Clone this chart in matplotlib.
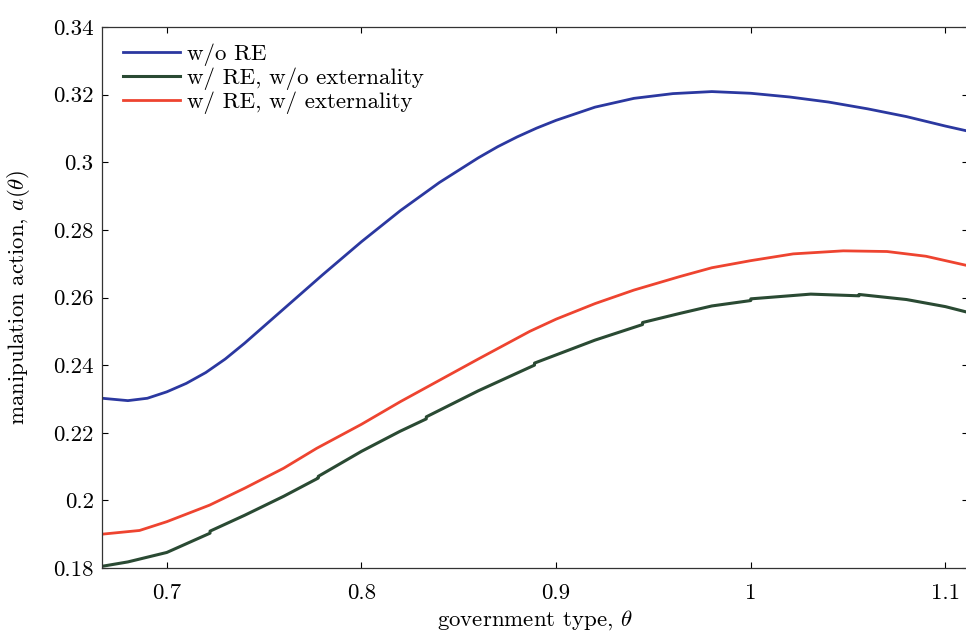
import matplotlib
matplotlib.use("Agg")
import matplotlib.pyplot as plt

# values
theta_blue = [0.6667, 0.68, 0.69, 0.70, 0.71, 0.72, 0.73, 0.74, 0.76, 0.78, 0.80, 0.82, 0.84,
              0.86, 0.87, 0.88, 0.89, 0.90, 0.92, 0.94, 0.96, 0.98, 1.00, 1.02, 1.04, 1.06,
              1.08, 1.10, 1.1116]
a_no_re = [0.2302, 0.2295, 0.2302, 0.2321, 0.2346, 0.2378, 0.2418, 0.2465, 0.2566, 0.2667,
           0.2765, 0.2857, 0.2940, 0.3013, 0.3046, 0.3075, 0.3101, 0.3124, 0.3163, 0.3189,
           0.3203, 0.3209, 0.3204, 0.3193, 0.3178, 0.3158, 0.3135, 0.3107, 0.3092]

theta_red = [0.6667, 0.686, 0.70, 0.722, 0.74, 0.76, 0.777, 0.80, 0.82, 0.84, 0.86, 0.8865,
             0.90, 0.92, 0.94, 0.9636, 0.98, 1.00, 1.0218, 1.0475, 1.07, 1.09, 1.1116]
a_re_ext = [0.1900, 0.1911, 0.1937, 0.1986, 0.2036, 0.2095, 0.2154, 0.2225, 0.2292, 0.2355,
            0.2418, 0.2500, 0.2536, 0.2582, 0.2622, 0.2662, 0.2688, 0.2709, 0.2729, 0.2738,
            0.2736, 0.2722, 0.2694]

# the green curve has small steps at the grid breaks, so some x values repeat
theta_green = [0.6667, 0.68, 0.70, 0.7222, 0.7222, 0.74, 0.76, 0.7778, 0.7778, 0.80, 0.8197,
               0.8333, 0.8333, 0.86, 0.8889, 0.8889, 0.92, 0.9444, 0.9444, 0.9636, 0.98,
               1.00, 1.00, 1.0308, 1.0556, 1.0556, 1.08, 1.10, 1.1116]
a_re_noext = [0.1805, 0.1818, 0.1846, 0.1903, 0.1909, 0.1956, 0.2012, 0.2066, 0.2071, 0.2145,
              0.2204, 0.2241, 0.2247, 0.2324, 0.2400, 0.2406, 0.2474, 0.2520, 0.2526, 0.2553,
              0.2575, 0.2591, 0.2596, 0.2610, 0.2605, 0.2609, 0.2594, 0.2573, 0.2556]

x_ticks = [0.7, 0.8, 0.9, 1.0, 1.1]
x_labels = ['0.7', '0.8', '0.9', '1', '1.1']
y_ticks = [0.18, 0.20, 0.22, 0.24, 0.26, 0.28, 0.30, 0.32, 0.34]
y_labels = ['0.18', '0.2', '0.22', '0.24', '0.26', '0.28', '0.3', '0.32', '0.34']

plt.rcParams['font.family'] = ['cmr10', 'DejaVu Serif']
plt.rcParams['mathtext.fontset'] = 'cm'
plt.rcParams['axes.formatter.use_mathtext'] = True

fig = plt.figure(figsize=(9.66, 6.37), dpi=100)
ax = fig.add_axes([102 / 966, 69 / 637, 866 / 966, 541 / 637])

ax.plot(theta_blue, a_no_re, color='#2b38a0', lw=2.0, label='w/o RE')
ax.plot(theta_green, a_re_noext, color='#2a4a33', lw=2.2, label='w/ RE, w/o externality')
ax.plot(theta_red, a_re_ext, color='#ee4430', lw=2.0, label='w/ RE, w/ externality')

ax.set_xlim(0.6667, 1.1116)
ax.set_ylim(0.18, 0.34)
ax.set_xticks(x_ticks)
ax.set_xticklabels(x_labels)
ax.set_yticks(y_ticks)
ax.set_yticklabels(y_labels)

ax.tick_params(direction='in', length=4, width=0.8, top=True, right=True, labelsize=16.5)
ax.tick_params(axis='x', pad=11)
ax.tick_params(axis='y', pad=6)
for s in ax.spines.values():
    s.set_linewidth(0.9)
    s.set_color('#333333')

ax.set_xlabel(r'government type, $\theta$', fontsize=16.5, labelpad=4)
ax.set_ylabel(r'manipulation action, $a(\theta)$', fontsize=16.5, labelpad=15)

ax.legend(loc='upper left', frameon=False, fontsize=16.5, handlelength=2.5,
          handletextpad=0.3, labelspacing=0.08, borderaxespad=0.0,
          bbox_to_anchor=(12 / 866, 1 - 7 / 541))

fig.savefig('out.png', dpi=100)
